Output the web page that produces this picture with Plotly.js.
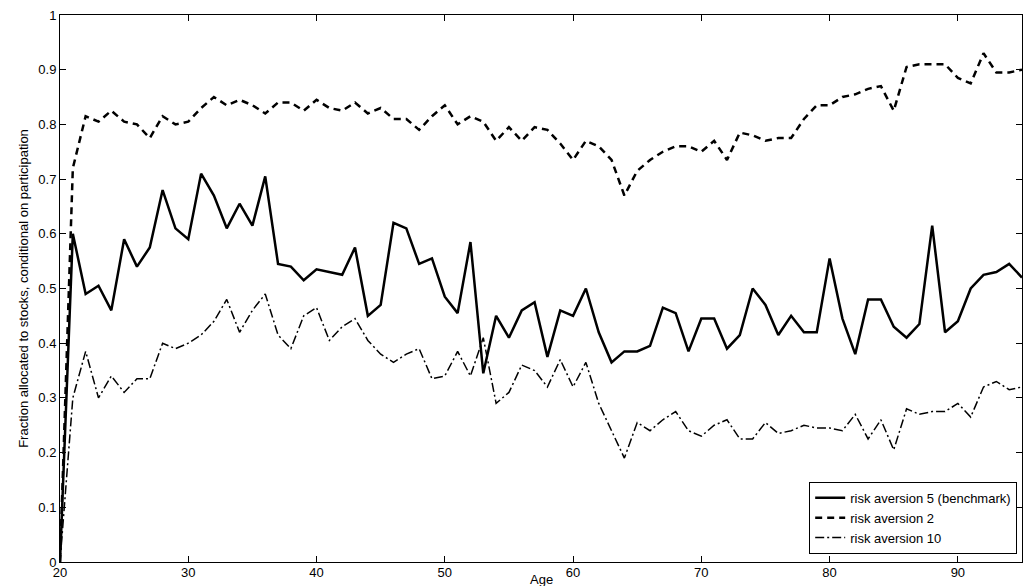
<!DOCTYPE html>
<html><head><script src="https://cdn.plot.ly/plotly-3.0.1.min.js"></script>
<style>body{margin:0;background:#fff}</style></head><body>
<div id="c" style="width:1029px;height:586px"></div>
<script>
const ages=[];for(let a=20;a<=95;a++)ages.push(a);
const ra5=[0,0.60,0.49,0.505,0.46,0.59,0.54,0.575,0.68,0.61,0.59,0.71,0.67,0.61,0.655,0.615,0.705,0.545,0.54,0.515,0.535,0.53,0.525,0.575,0.45,0.47,0.62,0.61,0.545,0.555,0.485,0.455,0.585,0.345,0.45,0.41,0.46,0.475,0.375,0.46,0.45,0.50,0.42,0.365,0.385,0.385,0.395,0.465,0.455,0.385,0.445,0.445,0.39,0.415,0.50,0.47,0.415,0.45,0.42,0.42,0.555,0.445,0.38,0.48,0.48,0.43,0.41,0.435,0.615,0.42,0.44,0.50,0.525,0.53,0.545,0.52];
const ra2=[0,0.72,0.815,0.805,0.825,0.805,0.80,0.775,0.815,0.80,0.805,0.83,0.85,0.835,0.845,0.835,0.82,0.84,0.84,0.825,0.845,0.83,0.825,0.84,0.82,0.83,0.81,0.81,0.79,0.815,0.835,0.80,0.815,0.805,0.77,0.795,0.77,0.795,0.79,0.765,0.735,0.77,0.76,0.735,0.67,0.715,0.735,0.75,0.76,0.76,0.75,0.77,0.735,0.785,0.78,0.77,0.775,0.775,0.81,0.835,0.835,0.85,0.855,0.865,0.87,0.825,0.905,0.91,0.91,0.91,0.885,0.875,0.93,0.895,0.895,0.90];
const ra10=[0,0.30,0.385,0.30,0.34,0.31,0.335,0.335,0.40,0.39,0.40,0.415,0.44,0.48,0.42,0.46,0.49,0.415,0.39,0.45,0.465,0.405,0.43,0.445,0.405,0.38,0.365,0.38,0.39,0.335,0.34,0.385,0.34,0.41,0.29,0.31,0.36,0.35,0.32,0.37,0.32,0.365,0.29,0.24,0.19,0.255,0.24,0.26,0.275,0.24,0.23,0.25,0.26,0.225,0.225,0.255,0.235,0.24,0.25,0.245,0.245,0.24,0.27,0.225,0.26,0.205,0.28,0.27,0.275,0.275,0.29,0.265,0.32,0.33,0.315,0.32];
const names=['risk aversion 5 (benchmark)','risk aversion 2','risk aversion 10'];
const data=[
{x:ages,y:ra5,name:names[0],mode:'lines',line:{color:'#000',width:2.5,dash:'solid'}},
{x:ages,y:ra2,name:names[1],mode:'lines',line:{color:'#000',width:2.5,dash:'7px,5px'}},
{x:ages,y:ra10,name:names[2],mode:'lines',line:{color:'#000',width:1.5,dash:'9px,3px,2px,3px'}}];
const ax={showline:true,mirror:'ticks',linecolor:'#000',linewidth:1,ticks:'inside',ticklen:6,tickcolor:'#000',showgrid:false,zeroline:false,tickfont:{size:13,color:'#000'},automargin:false};
Plotly.newPlot('c',data,{
width:1029,height:586,margin:{l:60,r:7,t:15,b:24},paper_bgcolor:'#fff',plot_bgcolor:'#fff',
font:{family:'Liberation Sans, Arial, sans-serif',color:'#000'},
xaxis:Object.assign({},ax,{range:[20,95],tickvals:[20,30,40,50,60,70,80,90],ticklabelstandoff:-2}),
yaxis:Object.assign({},ax,{range:[0,1],dtick:0.1,title:{text:'Fraction allocated to stocks, conditional on participation',font:{size:13},standoff:6}}),
annotations:[{text:'Age',xref:'paper',yref:'paper',x:0.5,y:0,yanchor:'middle',yshift:-17,showarrow:false,font:{size:13}}],
legend:{x:0.995,y:0.015,xanchor:'right',yanchor:'bottom',bordercolor:'#000',borderwidth:1,bgcolor:'#fff',font:{size:13},tracegroupgap:0}
},{displayModeBar:false});
</script></body></html>
